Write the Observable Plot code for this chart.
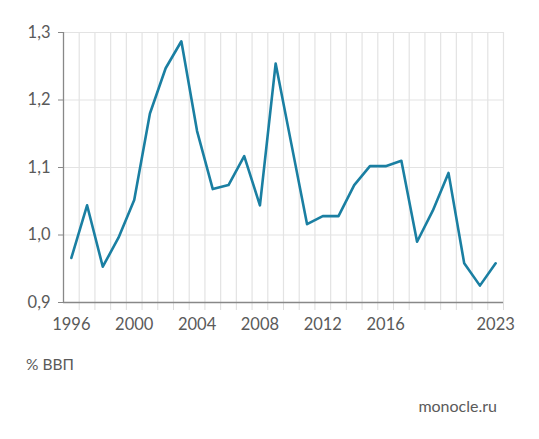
<!DOCTYPE html>
<html><head><meta charset="utf-8">
<script src="https://cdn.jsdelivr.net/npm/d3@7"></script>
<script src="https://cdn.jsdelivr.net/npm/@observablehq/plot@0.6"></script>
<style>
html,body{margin:0;padding:0;background:#fff;}
#wrap{position:relative;width:539px;height:439px;font-family:Lato,"Open Sans",sans-serif;color:#5a5a5a;}
#unit{position:absolute;left:26px;top:355px;font-size:15.5px;}
#src{position:absolute;right:42px;top:396px;font-size:16px;}
</style></head>
<body><div id="wrap"><div id="chart"></div><div id="unit">% ВВП</div><div id="src">monocle.ru</div></div>
<script>
const years = d3.range(1996, 2024);
const values = [0.966, 1.044, 0.953, 0.996, 1.052, 1.180, 1.247, 1.287, 1.154, 1.068,
  1.074, 1.117, 1.044, 1.254, 1.135, 1.016, 1.028, 1.028, 1.074, 1.102,
  1.102, 1.110, 0.990, 1.036, 1.092, 0.958, 0.925, 0.958];
const yTicks = [0.9, 1.0, 1.1, 1.2, 1.3];
const xLabels = [1996, 2000, 2004, 2008, 2012, 2016, 2023];
const data = years.map((y, i) => ({year: y, value: values[i]}));
const bounds = d3.range(1996.5, 2024, 1);
const fmt = d => d.toFixed(1).replace(".", ",");

const chart = Plot.plot({
  width: 539, height: 345,
  marginLeft: 63, marginRight: 36, marginTop: 32, marginBottom: 43,
  style: {fontFamily: "Lato, 'Open Sans', sans-serif", fontSize: "16px", color: "#5a5a5a", background: "#fff"},
  x: {domain: [1995.5, 2023.5]},
  y: {domain: [0.9, 1.3]},
  marks: [
    Plot.ruleY(yTicks.slice(1), {stroke: "#e3e3e3", strokeWidth: 1.2}),
    Plot.ruleX(bounds, {stroke: "#e3e3e3", strokeWidth: 1.2}),
    Plot.axisY({ticks: yTicks, tickSize: 5, tickPadding: 8, tickFormat: fmt, stroke: "#888", label: null, fontSize: 16.5}),
    Plot.axisX({ticks: bounds, tickSize: 8, tickFormat: () => "", stroke: "#ddd", label: null}),
    Plot.axisX({ticks: xLabels, tickSize: 0, tickPadding: 16, tickFormat: d => String(d), label: null, fontSize: 16.5}),
    Plot.ruleX([1995.5], {stroke: "#888", strokeWidth: 1.3}),
    Plot.ruleY([0.9], {stroke: "#888", strokeWidth: 1.3}),
    Plot.line(data, {x: "year", y: "value", stroke: "#1a7fa2", strokeWidth: 2.6})
  ]
});
document.getElementById("chart").appendChild(chart);
</script></body></html>
